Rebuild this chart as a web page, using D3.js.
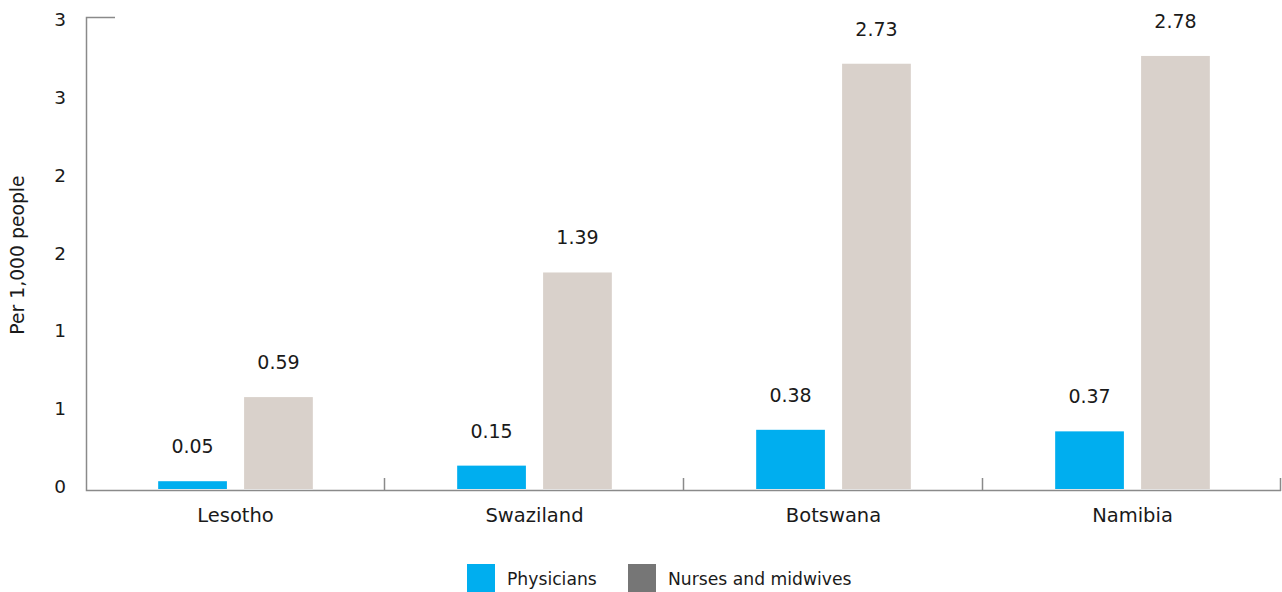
<!DOCTYPE html>
<meta charset="utf-8">
<style>
  body { margin: 0; background: #fff; }
  svg text { font-family: "DejaVu Sans", "Liberation Sans", sans-serif; fill: #1a1a1a; }
</style>
<svg width="1282" height="592"></svg>
<script src="https://cdn.jsdelivr.net/npm/d3@7"></script>
<script>

var countries = ["Lesotho", "Swaziland", "Botswana", "Namibia"];
var series = ["Physicians", "Nurses and midwives"];
var physicians = [0.05, 0.15, 0.38, 0.37];
var nurses = [0.59, 1.39, 2.73, 2.78];
var yTicks = [0, 0.5, 1, 1.5, 2, 2.5, 3];
var yTickLabels = ["0", "1", "1", "2", "2", "3", "3"];
var barColors = ["#00aeef", "#d9d1cb"];
var legendColors = ["#00aeef", "#767676"];

var rows = countries.map(function(c, i) {
  return {country: c, values: [physicians[i], nurses[i]]};
});

var svg = d3.select("svg");
var grey = "#8a8a8a";
var font = "'DejaVu Sans', 'Liberation Sans', sans-serif";

var x0 = d3.scaleBand().domain(countries).range([86, 1282]).padding(0);
var x1 = d3.scaleBand().domain(series).range([0, x0.bandwidth()])
    .paddingInner(0.2).paddingOuter(0.84);
var y = d3.scaleLinear().domain([0, 3.03]).range([489, 17]);

// y axis labels
var yAxis = svg.append("g")
    .attr("transform", "translate(86,0)")
    .call(d3.axisLeft(y).tickValues(yTicks)
      .tickFormat(function(d, i) { return yTickLabels[i]; })
      .tickSize(0).tickPadding(20));
yAxis.select(".domain").remove();
yAxis.selectAll("text").attr("font-size", 18.5).attr("dy", "0.2em")
    .style("font-family", font).attr("fill", "#1a1a1a");

// axis lines
svg.append("path")
    .attr("d", "M115,17.5H86.5V490.5H1281")
    .attr("fill", "none").attr("stroke", grey).attr("stroke-width", 1.5);

// bottom axis labels
var xAxis = svg.append("g")
    .attr("transform", "translate(0,491)")
    .call(d3.axisBottom(x0).tickSize(0).tickPadding(17));
xAxis.select(".domain").remove();
xAxis.selectAll("text").attr("font-size", 19.5)
    .style("font-family", font).attr("fill", "#1a1a1a");

// band separators
svg.selectAll(".sep").data(countries).enter().append("line")
    .attr("class", "sep")
    .attr("x1", function(d) { return Math.min(x0(d) + x0.bandwidth(), 1281) - 0.5; })
    .attr("x2", function(d) { return Math.min(x0(d) + x0.bandwidth(), 1281) - 0.5; })
    .attr("y1", 478).attr("y2", 491)
    .attr("stroke", grey).attr("stroke-width", 1.5);

// bars
var groups = svg.selectAll(".grp").data(rows).enter().append("g")
    .attr("class", "grp")
    .attr("transform", function(d) { return "translate(" + x0(d.country) + ",0)"; });

groups.selectAll("rect").data(function(d) {
    return d.values.map(function(v, i) { return {key: series[i], value: v, i: i}; });
  }).enter().append("rect")
    .attr("x", function(d) { return x1(d.key); })
    .attr("width", x1.bandwidth())
    .attr("y", function(d) { return y(d.value); })
    .attr("height", function(d) { return y(0) - y(d.value); })
    .attr("fill", function(d) { return barColors[d.i]; });

groups.selectAll(".val").data(function(d) {
    return d.values.map(function(v, i) { return {key: series[i], value: v}; });
  }).enter().append("text")
    .attr("class", "val")
    .attr("x", function(d) { return x1(d.key) + x1.bandwidth() / 2; })
    .attr("y", function(d) { return y(d.value) - 28; })
    .attr("text-anchor", "middle")
    .attr("font-size", 19)
    .text(function(d) { return d3.format(".2f")(d.value); });

// y title
svg.append("text")
    .attr("transform", "translate(24,255) rotate(-90)")
    .attr("text-anchor", "middle")
    .attr("font-size", 18.8)
    .text("Per 1,000 people");

// legend
var legendX = [467, 628];
var legend = svg.selectAll(".leg").data(series).enter().append("g")
    .attr("class", "leg")
    .attr("transform", function(d, i) { return "translate(" + legendX[i] + ",564)"; });
legend.append("rect").attr("width", 28).attr("height", 28)
    .attr("fill", function(d, i) { return legendColors[i]; });
legend.append("text").attr("x", 40).attr("y", 20.5)
    .attr("font-size", 17.2)
    .text(function(d) { return d; });

</script>
